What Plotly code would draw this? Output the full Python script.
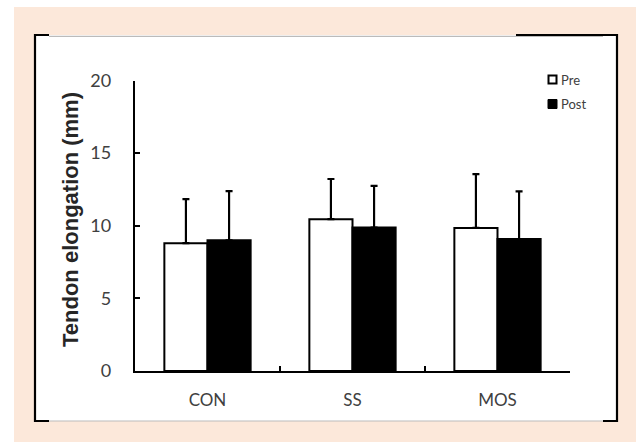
import plotly.graph_objects as go

categories = ["CON", "SS", "MOS"]
pre_values = [8.8, 10.45, 9.85]
post_values = [9.0, 9.88, 9.08]
pre_err = [3.03, 2.77, 3.7]
post_err = [3.38, 2.87, 3.28]
y_ticks = [0, 5, 10, 15, 20]
series_names = ["Pre", "Post"]

W, H = 636, 442
def px(x): return x / W
def py(y): return 1 - y / H

fig = go.Figure()
fig.add_trace(go.Bar(
    x=categories, y=pre_values, name=series_names[0],
    marker=dict(color="white", line=dict(color="black", width=2)),
    error_y=dict(type="data", array=pre_err, arrayminus=[0]*3, symmetric=False,
                 color="black", thickness=2.2, width=3.5),
))
fig.add_trace(go.Bar(
    x=categories, y=post_values, name=series_names[1],
    marker=dict(color="black", line=dict(color="black", width=2)),
    error_y=dict(type="data", array=post_err, arrayminus=[0]*3, symmetric=False,
                 color="black", thickness=2.2, width=3.5),
))

peach = "#FCE8DA"
shapes = [
    dict(type="rect", xref="paper", yref="paper", x0=px(14), x1=px(636), y0=py(442), y1=py(7),
         fillcolor=peach, line=dict(width=0), layer="below"),
    dict(type="rect", xref="paper", yref="paper", x0=px(35), x1=px(617), y0=py(421), y1=py(35),
         fillcolor="white", line=dict(width=0), layer="below"),
    # gray thin frame lines
    dict(type="line", xref="paper", yref="paper", x0=px(49), x1=px(603), y0=py(36.3), y1=py(36.3),
         line=dict(color="#aaaaaa", width=1)),
    dict(type="line", xref="paper", yref="paper", x0=px(49), x1=px(603), y0=py(421), y1=py(421),
         line=dict(color="#bbbbbb", width=1)),
    # black frame parts
    dict(type="line", xref="paper", yref="paper", x0=px(35), x1=px(35), y0=py(422), y1=py(34),
         line=dict(color="black", width=2.2)),
    dict(type="line", xref="paper", yref="paper", x0=px(617), x1=px(617), y0=py(422), y1=py(34),
         line=dict(color="black", width=2.2)),
    dict(type="line", xref="paper", yref="paper", x0=px(34), x1=px(49), y0=py(35), y1=py(35),
         line=dict(color="black", width=2)),
    dict(type="line", xref="paper", yref="paper", x0=px(516), x1=px(618), y0=py(35), y1=py(35),
         line=dict(color="black", width=2)),
    dict(type="line", xref="paper", yref="paper", x0=px(34), x1=px(49), y0=py(421), y1=py(421),
         line=dict(color="black", width=2)),
    dict(type="line", xref="paper", yref="paper", x0=px(603), x1=px(618), y0=py(421), y1=py(421),
         line=dict(color="black", width=2)),
    # legend swatches
    dict(type="rect", xref="paper", yref="paper", x0=px(548.5), x1=px(556.5), y0=py(83.5), y1=py(75.5),
         fillcolor="white", line=dict(color="black", width=2)),
    dict(type="rect", xref="paper", yref="paper", x0=px(548), x1=px(557), y0=py(108.5), y1=py(99.5),
         fillcolor="black", line=dict(color="black", width=1)),
]

annotations = [
    dict(text="<b>Tendon elongation (mm)</b>", xref="paper", yref="paper",
         x=px(70), y=py(220), xanchor="center", yanchor="middle", textangle=-90, showarrow=False,
         font=dict(family="Liberation Sans", size=22, color="#262626")),
    dict(text=series_names[0], xref="paper", yref="paper", x=px(559), y=py(79.5),
         xanchor="left", yanchor="middle", showarrow=False,
         font=dict(family="Lato", size=13, color="#404040")),
    dict(text=series_names[1], xref="paper", yref="paper", x=px(559), y=py(104),
         xanchor="left", yanchor="middle", showarrow=False,
         font=dict(family="Lato", size=13, color="#404040")),
]

fig.update_layout(
    width=W, height=H, autosize=False,
    margin=dict(l=0, r=0, t=0, b=0, pad=0),
    paper_bgcolor="white", plot_bgcolor="rgba(0,0,0,0)",
    barmode="group", bargap=0.405, bargroupgap=0,
    shapes=shapes, annotations=annotations,
    font=dict(family="Lato", color="#404040"),
    showlegend=False,
    xaxis=dict(domain=[px(135), px(570)], range=[-0.5, 2.5], automargin=False,
               showline=True, linecolor="black", linewidth=2.4,
               ticks="inside", tickson="boundaries", ticklen=5, tickwidth=2, tickcolor="black",
               tickfont=dict(size=17, color="#404040"), ticklabelstandoff=12,
               showgrid=False, zeroline=False),
    yaxis=dict(domain=[py(371), py(80.5)], range=[0, 20], tickvals=y_ticks, automargin=False,
               showline=True, linecolor="black", linewidth=2.4,
               ticks="inside", ticklen=5, tickwidth=2, tickcolor="black",
               tickfont=dict(size=18, color="#404040"), ticklabelstandoff=18,
               showgrid=False, zeroline=False),
)

fig.write_html("out.html", config={"displayModeBar": False},
               post_script="document.body.style.margin='0';document.body.style.padding='0';")
